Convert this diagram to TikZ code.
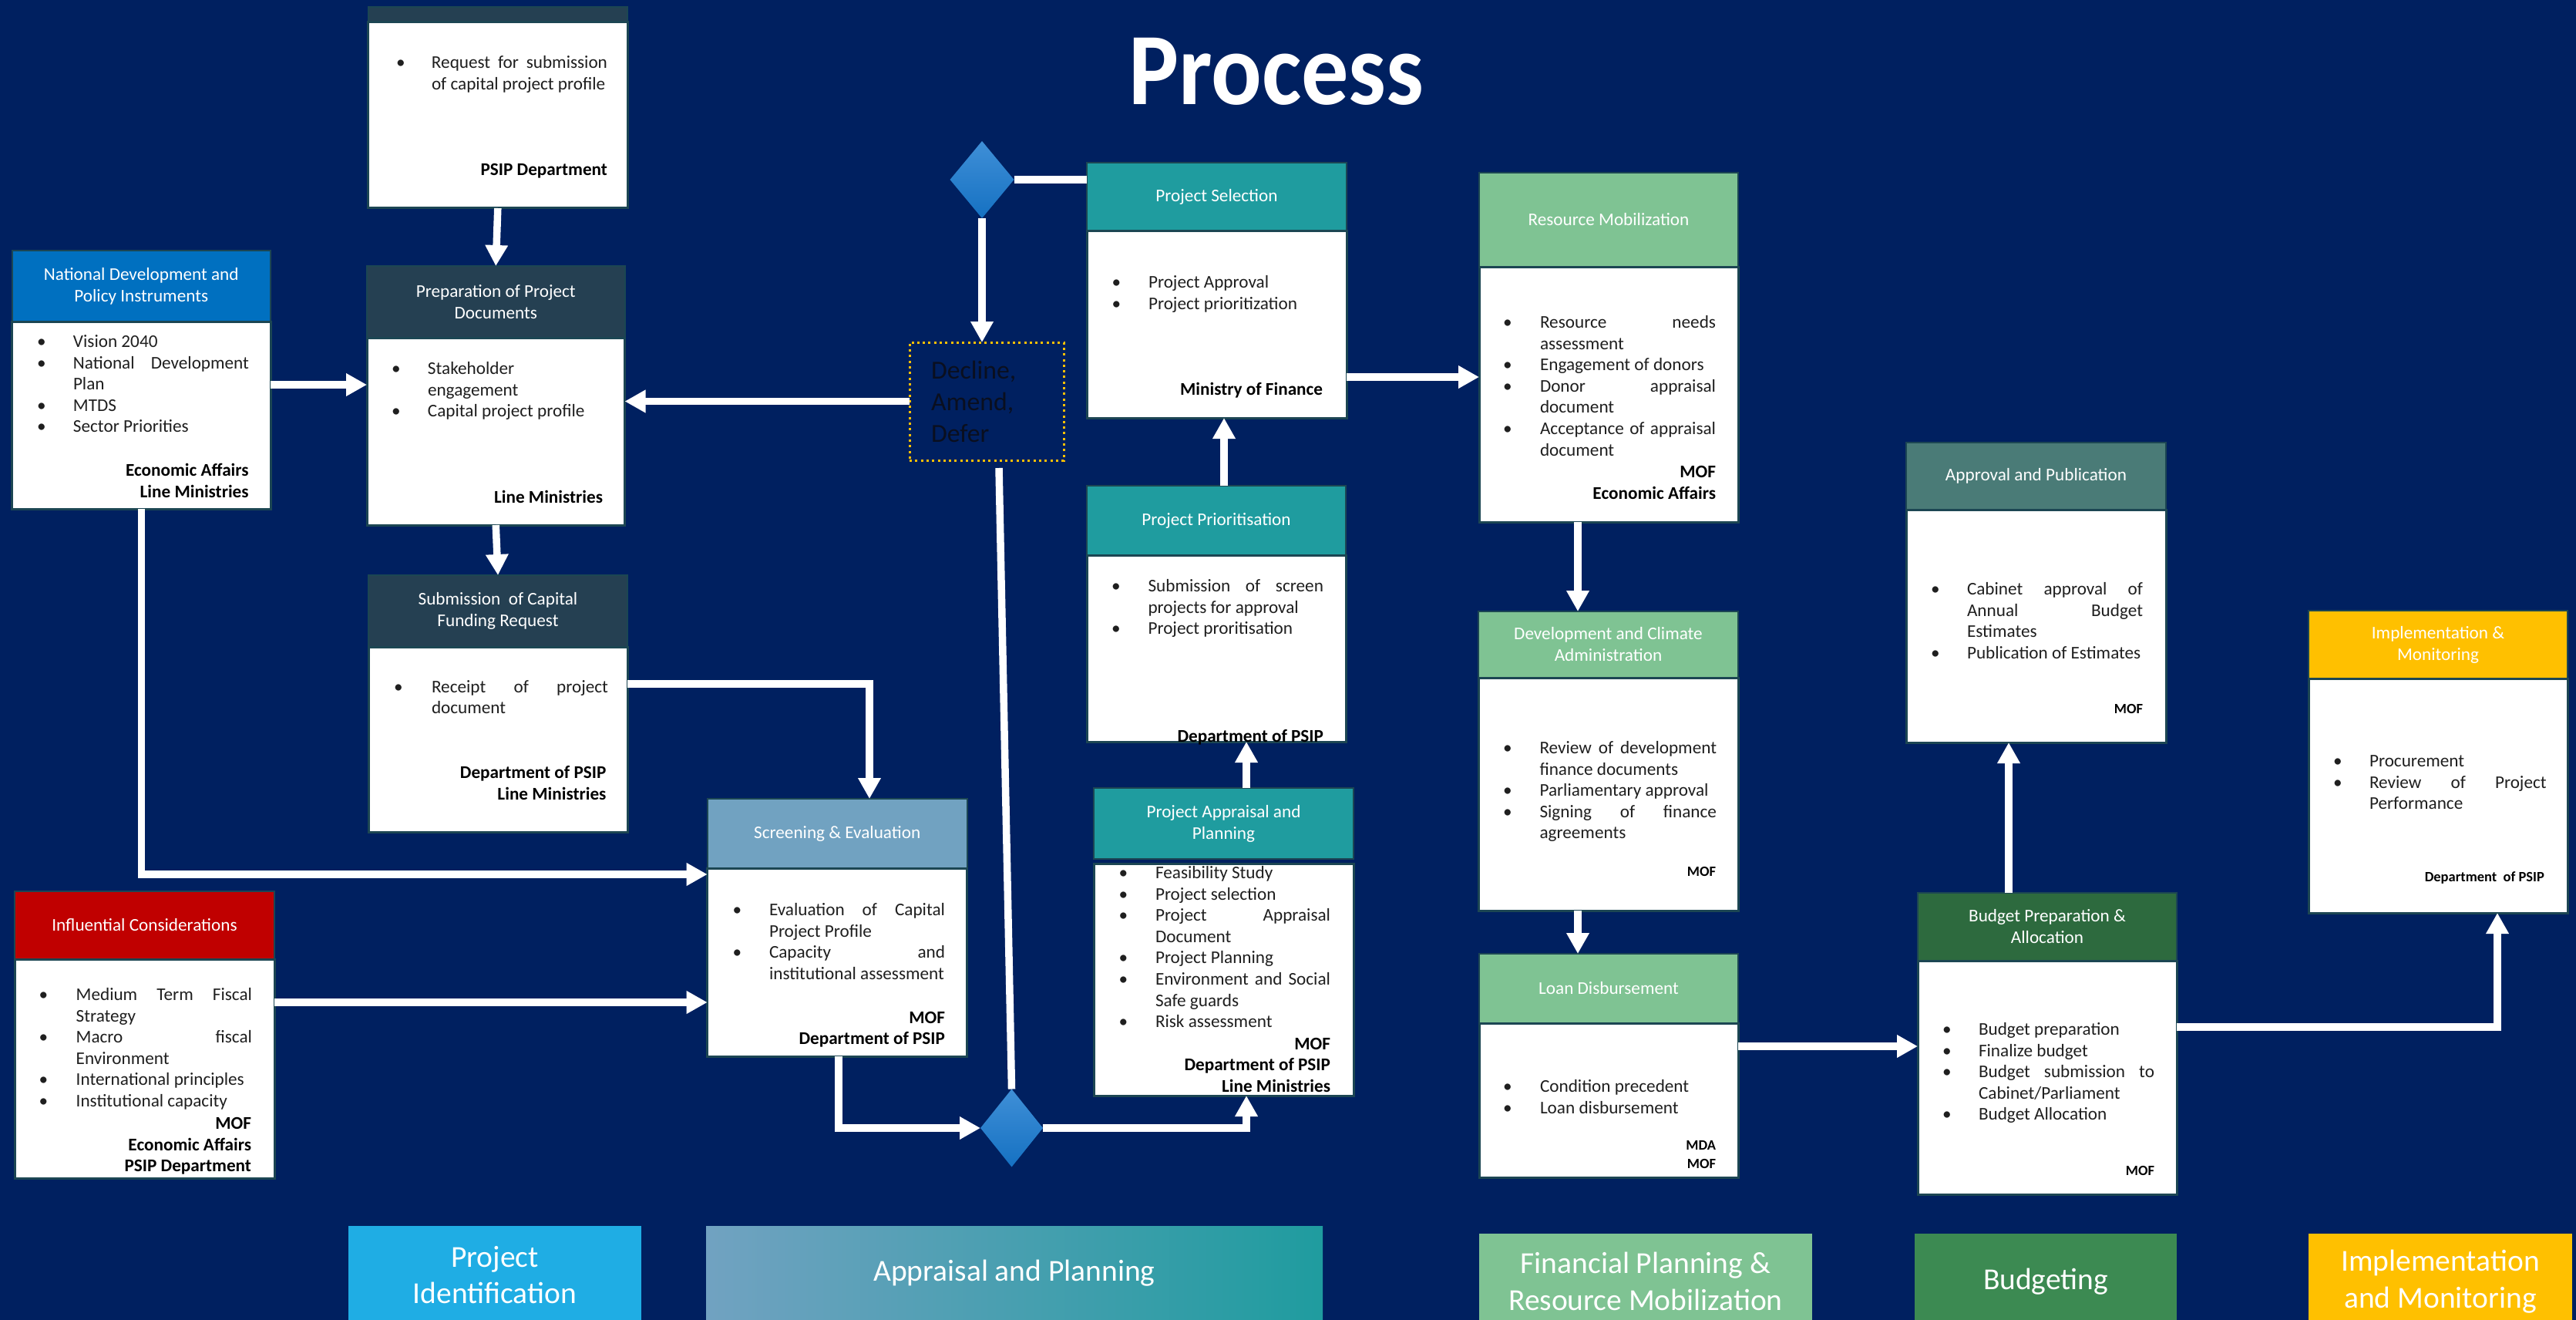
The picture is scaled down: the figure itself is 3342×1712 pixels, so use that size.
\documentclass[tikz,border=0pt]{standalone}
\usepackage{fontspec}
\setmainfont{Carlito}
\usetikzlibrary{arrows.meta,shapes.geometric,calc}
\definecolor{bg}{HTML}{002060}
\definecolor{bordc}{HTML}{1C4653}
\definecolor{slate}{HTML}{254052}
\definecolor{natblue}{HTML}{0070C0}
\definecolor{infred}{HTML}{C00000}
\definecolor{steel}{HTML}{71A2C1}
\definecolor{tealc}{HTML}{1F9C9F}
\definecolor{lgreen}{HTML}{7FC393}
\definecolor{grayteal}{HTML}{4A7B77}
\definecolor{dgreen}{HTML}{2D6A3E}
\definecolor{amber}{HTML}{FFC000}
\definecolor{pidblue}{HTML}{1FADE4}
\definecolor{budgreen}{HTML}{3C8A52}
\definecolor{dtop}{HTML}{3F8FD7}
\definecolor{dbot}{HTML}{1571C2}
\definecolor{txt}{HTML}{1F1F1F}
\definecolor{decltxt}{HTML}{0A0F1F}
\newlength{\bsep}
\newcommand{\hdrfont}{\fontsize{23.2}{28}\selectfont}
\newcommand{\itmsetup}{\fontsize{23.2}{27.6}\selectfont\hyphenpenalty=10000\exhyphenpenalty=10000\tolerance=10000\parindent=0pt\parskip=0pt}
\newcommand{\itm}[1]{\par\noindent\hangindent=\bsep\hangafter=1\relax\makebox[\bsep][l]{\textbullet}#1}
\newcommand{\itemsat}[5]{\node[anchor=base west, inner sep=0, outer sep=0, text=txt] at (#1,#2) {\setlength{\bsep}{\dimexpr(#3pt)-(#1pt)\relax}\parbox[t]{\dimexpr(#4pt)-(#1pt)\relax}{\itmsetup #5}};}
\newcommand{\footr}[3]{\node[anchor=base east, inner sep=0, outer sep=0, text=black] at (#1,#2) {\parbox[t]{400pt}{\raggedleft\fontsize{23.2}{27.6}\selectfont\bfseries #3}};}
\newcommand{\footsm}[3]{\node[anchor=base east, inner sep=0, outer sep=0, text=black] at (#1,#2) {\parbox[t]{400pt}{\raggedleft\fontsize{18.5}{23.5}\selectfont\bfseries #3}};}
\newcommand{\procbox}[9]{%
  \node[hdr, fill=#8, minimum width={#3-#2}, minimum height={#5-#4}] (#1H) at (#2,#4) {#9};
  \node[bodyb, minimum width={#3-#2}, minimum height={#7-#6}] (#1B) at (#2,#6) {};
}
\tikzset{
  hdr/.style={draw=bordc, line width=2pt, inner sep=0pt, outer sep=0pt, anchor=north west, text=white, align=center, font=\hdrfont},
  bodyb/.style={draw=bordc, line width=3pt, fill=white, inner sep=0pt, outer sep=0pt, anchor=north west},
  arr/.style={draw=white, line width=9.5pt, -{Triangle[width=28pt,length=27pt]}},
  ln/.style={draw=white, line width=9.5pt},
  dia/.style={diamond, inner sep=0pt, outer sep=0pt, top color=dtop, bottom color=dbot, draw=none},
  lab/.style={inner sep=0pt, outer sep=0pt, anchor=north west, draw=none},
  labtxt/.style={text=white, align=center, font=\fontsize{39.5}{47.5}\selectfont},
}
\begin{document}
\begin{tikzpicture}[x=1pt,y=-1pt]
\useasboundingbox (0,0) rectangle (3342,1712);
\fill[bg] (0,0) rectangle (3342,1712);

% title
\node[anchor=base, inner sep=0, text=white] (title) at (1656,136) {\scalebox{0.92}[1]{\fontsize{133}{133}\selectfont\bfseries Process}};

% process boxes
\procbox{psip}{477.6}{814}{9}{29}{29}{270}{slate}{}
\procbox{nat}{15.5}{351}{325}{417}{417}{660}{natblue}{National Development and\\Policy Instruments}
\procbox{prep}{476}{810.5}{345}{438}{438}{681}{slate}{Preparation of Project\\Documents}
\procbox{sub}{478}{814}{746}{839.4}{839.4}{1079}{slate}{Submission\ \ of Capital\\Funding Request}
\procbox{inf}{19}{356}{1156}{1244}{1244}{1528}{infred}{Influential Considerations}
\procbox{scr}{917.7}{1254.7}{1036}{1126}{1126}{1370}{steel}{Screening \& Evaluation}
\procbox{sel}{1410}{1747}{211}{299}{299}{542}{tealc}{Project Selection}
\procbox{prio}{1410}{1746}{630}{720.5}{720.5}{962}{tealc}{Project Prioritisation}
\procbox{app}{1419}{1756}{1022}{1114}{1120}{1421}{tealc}{Project Appraisal and\\Planning}
\procbox{res}{1919}{2255}{223.7}{346}{346}{677}{lgreen}{Resource Mobilization}
\procbox{dev}{1918}{2255}{793}{879}{879}{1181}{lgreen}{Development and Climate\\Administration}
\procbox{loan}{1919}{2255}{1237}{1327}{1327}{1527}{lgreen}{Loan Disbursement}
\procbox{apr}{2473}{2810}{574}{661}{661}{963}{grayteal}{Approval and Publication}
\procbox{bud}{2488}{2824}{1158}{1246}{1246}{1549}{dgreen}{Budget Preparation \&\\Allocation}
\procbox{imp}{2995}{3331}{792}{880}{880}{1184}{amber}{Implementation \&\\Monitoring}

% box contents
\itemsat{514}{88.5}{560}{788}{\itm{Request for submission\linebreak of capital project profile}}
\footr{788}{227.5}{PSIP Department}

\itemsat{48}{450.5}{95}{323}{\itm{Vision 2040}\itm{National Development\linebreak Plan}\itm{MTDS}\itm{Sector Priorities}}
\footr{322.6}{617.5}{Economic Affairs\\Line Ministries}

\itemsat{508}{485.5}{555}{782}{\itm{Stakeholder\newline engagement}\itm{Capital project profile}}
\footr{782}{652.5}{Line Ministries}

\itemsat{511}{898}{560}{789}{\itm{Receipt of project\linebreak document}}
\footr{786.4}{1009.5}{Department of PSIP\\Line Ministries}

\itemsat{50.5}{1297.5}{98.7}{327}{\itm{Medium Term Fiscal\linebreak Strategy}\itm{Macro fiscal\linebreak Environment}\itm{International~principles}\itm{Institutional capacity}}
\footr{326}{1464.5}{MOF\\Economic Affairs\\PSIP Department}

\itemsat{950.5}{1187.5}{998}{1226}{\itm{Evaluation of Capital\linebreak Project Profile}\itm{Capacity and\linebreak institutional~assessment}}
\footr{1226}{1327}{MOF\\Department of PSIP}

\itemsat{1442.5}{373.5}{1490}{1716}{\itm{Project Approval}\itm{Project prioritization}}
\footr{1716}{512.5}{Ministry of Finance}

\itemsat{1442}{767.5}{1489.5}{1717}{\itm{Submission of screen\linebreak projects for approval}\itm{Project proritisation}}
\footr{1717}{962}{Department of PSIP}

\itemsat{1451.6}{1139.5}{1499}{1726}{\itm{Feasibility Study}\itm{Project selection}\itm{Project Appraisal\linebreak Document}\itm{Project Planning}\itm{Environment and Social\linebreak Safe guards}\itm{Risk assessment}}
\footr{1726}{1361}{MOF\\Department of PSIP\\Line Ministries}

\itemsat{1950}{425.5}{1998}{2226}{\itm{Resource needs\linebreak assessment}\itm{Engagement of donors}\itm{Donor appraisal\linebreak document}\itm{Acceptance of appraisal\linebreak document}}
\footr{2226}{619.5}{MOF\\Economic Affairs}

\itemsat{1950}{977.5}{1997.5}{2227}{\itm{Review of development\linebreak finance documents}\itm{Parliamentary approval}\itm{Signing of finance\linebreak agreements}}
\footsm{2226}{1136}{MOF}

\itemsat{1950}{1416.5}{1998}{2226}{\itm{Condition precedent}\itm{Loan disbursement}}
\footsm{2226}{1491.5}{MDA\\MOF}

\itemsat{2505}{771.5}{2552}{2780}{\itm{Cabinet approval of\linebreak Annual Budget\linebreak Estimates}\itm{Publication~of~Estimates}}
\footsm{2780}{925}{MOF}

\itemsat{2520}{1342.5}{2567}{2795}{\itm{Budget preparation}\itm{Finalize budget}\itm{Budget submission to\linebreak Cabinet/Parliament}\itm{Budget Allocation}}
\footsm{2795}{1524}{MOF}

\itemsat{3027}{994.5}{3074}{3303.6}{\itm{Procurement}\itm{Review of Project\linebreak Performance}}
\footsm{3301}{1143}{Department\ \ of PSIP}

% decision diamonds and decline box
\node[dia, minimum width=83pt, minimum height=100pt] (dia1) at (1274,233) {};
\node[dia, minimum width=81pt, minimum height=101pt] (dia2) at (1312.5,1463) {};
\node[draw=amber, line width=3pt, dash pattern=on 3pt off 4.3pt, inner sep=0pt, outer sep=0pt, anchor=north west, minimum width=200pt, minimum height=153pt] (decl) at (1180,444) {};
\node[anchor=base west, inner sep=0pt, text=decltxt] (decltext) at (1208,491) {\parbox[t]{160pt}{\raggedright\fontsize{33.7}{41}\selectfont Decline,\\Amend,\\Defer}};

% stage labels
\node[lab, fill=pidblue, minimum width=380pt, minimum height=130pt] (labA) at (452,1590) {};
\node[lab, left color=steel, right color=tealc, minimum width=800pt, minimum height=130pt] (labB) at (916,1590) {};
\node[lab, fill=lgreen, minimum width=432pt, minimum height=120pt] (labC) at (1919,1600) {};
\node[lab, fill=budgreen, minimum width=340pt, minimum height=120pt] (labD) at (2484,1600) {};
\node[lab, fill=amber, minimum width=342pt, minimum height=120pt] (labE) at (2995,1600) {};
\node[labtxt] at (642,1653.5) {Project\\Identification};
\node[labtxt] at (1316,1651) {Appraisal and Planning};
\node[labtxt] at (2135,1662) {Financial Planning \&\\Resource Mobilization};
\node[labtxt] at (2654,1662) {Budgeting};
\node[labtxt] at (3166,1662) {Implementation\\and Monitoring};

% helper coordinates
\coordinate (yNat) at (0,499);
\coordinate (yScr1) at (0,1134);
\coordinate (yInf) at (0,1300);
\coordinate (xSub) at (1128,0);
\coordinate (ySub) at (0,887);
\coordinate (xScr) at (1088,0);
\coordinate (xApp) at (1617,0);
\coordinate (xPri) at (1588,0);
\coordinate (ySel) at (0,489);
\coordinate (xRes) at (2047,0);
\coordinate (yLoan) at (0,1357);
\coordinate (xBud) at (2606,0);
\coordinate (yBud) at (0,1332);
\coordinate (xImp) at (3240,0);

% connectors
\draw[arr] (psipB.south) -- (prepH.north);
\draw[arr] (prepB.south) -- (subH.north);
\draw[arr] (natB.east |- yNat) -- (prepB.west |- yNat);
\draw[arr] (decl.west) -- (decl.west -| prepB.east);
\draw[arr] (natB.south) |- (scrB.west |- yScr1);
\draw[arr] (infB.east |- yInf) -- (scrB.west |- yInf);
\draw[arr] (subB.east |- ySub) -| (scrH.north -| xSub);
\draw[arr] (scrB.south -| xScr) |- (dia2.west);
\draw[arr] (dia2.east) -| (appB.south -| xApp);
\draw[arr] (appH.north -| xApp) -- (prioB.south -| xApp);
\draw[arr] (prioH.north -| xPri) -- (selB.south -| xPri);
\draw[ln] (dia1.east) -- (dia1.east -| selH.west);
\draw[arr] (dia1.south) -- (decl.north -| dia1.south);
\draw[ln] ($(decl.south)+(16,10)$) -- (dia2.north);
\draw[arr] (selB.east |- ySel) -- (resB.west |- ySel);
\draw[arr] (resB.south -| xRes) -- (devH.north -| xRes);
\draw[arr] (devB.south -| xRes) -- (loanH.north -| xRes);
\draw[arr] (loanB.east |- yLoan) -- (budB.west |- yLoan);
\draw[arr] (budH.north -| xBud) -- (aprB.south -| xBud);
\draw[arr] (budB.east |- yBud) -| (impB.south -| xImp);
\end{tikzpicture}
\end{document}
